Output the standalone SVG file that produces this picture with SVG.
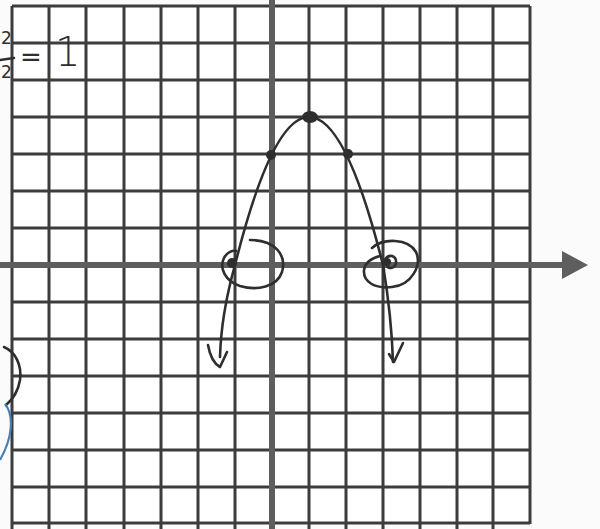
<svg xmlns="http://www.w3.org/2000/svg" width="600" height="529" viewBox="0 0 600 529">
<style>
.g{stroke:#3c3c3c;stroke-width:3;fill:none}
.ax{stroke:#5e5e5e;stroke-width:6;fill:none}
.ink{stroke:#2e2e2e;stroke-width:2.6;fill:none;stroke-linecap:round;stroke-linejoin:round}
.t{font-family:"DejaVu Sans",sans-serif;fill:#2e2e2e}
</style>
<rect width="600" height="529" fill="#fbfbfb"/>
<rect x="12" y="6" width="518" height="518" fill="#ffffff"/>
<g id="grid" class="g">
<path d="M12,6V529M49,6V529M86,6V529M124,6V529M161,6V529M198,6V529M235,6V529M309,6V529M346,6V529M383,6V529M420,6V529M457,6V529M493,6V529M530,6V524"/>
<path d="M12,6H530M12,43H530M12,80H530M12,117H530M12,154H530M12,191H530M12,228H530M12,302H530M12,339H530M12,376H530M12,413H530M12,450H530M12,487H530M12,523H530"/>
</g>
<g id="axes">
<path class="ax" d="M272,0V529"/>
<path class="ax" d="M0,265H566"/>
<polygon points="562,251 588,265 562,279" fill="#5e5e5e"/>
</g>
<g id="parabola" class="ink">
<path d="M309,117 Q272,117 235,265 C228,290 221,320 220,357"/>
<path d="M309,117 Q346,117 383,265 C388,295 392,330 393,362"/>
<path d="M208,345 Q211,362 220,367 L227,352"/>
<path d="M403,343 L394,362 L389,354"/>
</g>
<g id="points" fill="#2e2e2e">
<ellipse cx="310" cy="117" rx="8" ry="6"/>
<circle cx="271" cy="155" r="5"/>
<circle cx="348" cy="154" r="5"/>
<circle cx="232" cy="263" r="5"/>
<circle cx="387" cy="262" r="4"/>
</g>
<g id="circles" class="ink" stroke-width="2.2">
<path d="M250,240 C275,240 287,255 282,272 C277,287 257,291 240,286 C225,281 219,268 224,258 C227,252 233,250 236,251"/>
<path d="M372,248 C383,238 408,238 416,252 C422,265 412,285 392,287 C375,289 363,282 364,270 C365,262 372,258 380,256"/>
<path d="M384,270 C382,262 386,255 392,256 C398,258 397,267 391,268 C387,268 386,265 388,262"/>
</g>
<g id="margin">
<path class="ink" d="M4,347 C16,352 22,366 20,380 C18,392 12,400 6,405"/>
<path d="M5,404 C14,415 13,437 0,460" stroke="#4a7fb5" stroke-width="2.2" fill="none"/>
</g>
<g id="note">
<text class="t" x="1" y="44" font-size="17">2</text>
<path class="ink" d="M0,60 L14,58"/>
<text class="t" x="1" y="78" font-size="17">2</text>
<text class="t" x="20" y="66" font-size="26">=</text>
<text class="t" x="55" y="66" font-size="40" font-weight="300">1</text>
</g>
</svg>
